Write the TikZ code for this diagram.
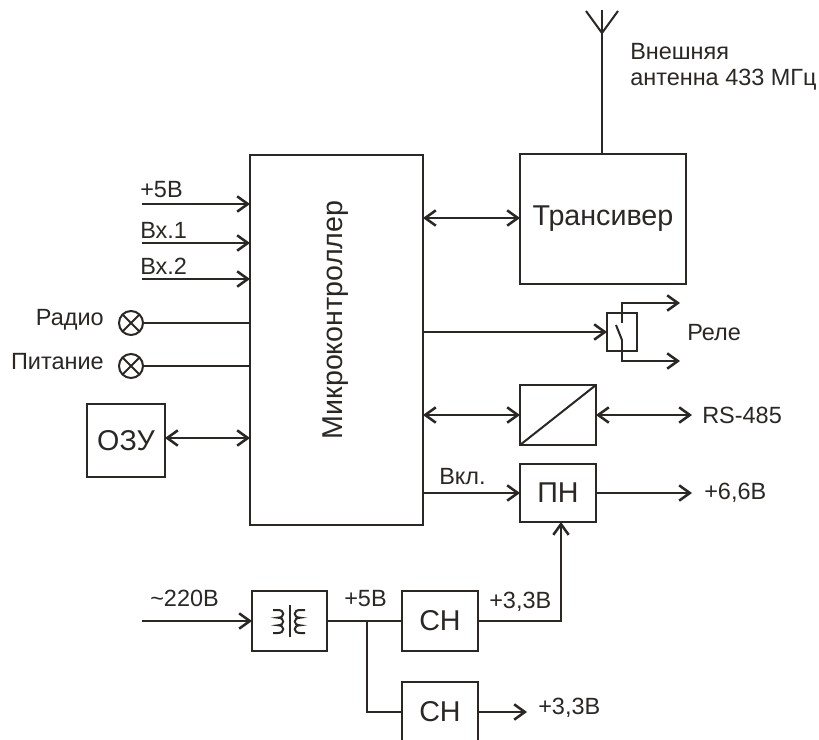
\documentclass[tikz,border=0pt]{standalone}
\usepackage{fontspec}
\setmainfont{Liberation Sans}
\usetikzlibrary{arrows.meta,positioning}
\definecolor{ink}{HTML}{2A2725}
\tikzset{
  x=0.75pt,y=-0.75pt,
  every node/.style={text=ink},
  line/.style={draw=ink,line width=1.5pt},
  arr/.style={line,-{Straight Barb[length=8pt,width=11.5pt,line width=1.9pt]}},
  darr/.style={line,{Straight Barb[length=8pt,width=11.5pt,line width=1.9pt]}-{Straight Barb[length=8pt,width=11.5pt,line width=1.9pt]}},
  blk/.style={line,rectangle,inner sep=0pt,outer sep=0pt},
  lamp/.style={line,circle,inner sep=0pt,outer sep=0pt,minimum size=18pt},
  lbl/.style={font=\fontsize{17.6pt}{20pt}\selectfont,anchor=west,inner sep=0pt},
  big/.style={font=\fontsize{21.5pt}{24pt}\selectfont,inner sep=0pt},
}
\begin{document}
\begin{tikzpicture}
\useasboundingbox[fill=white] (0,0) rectangle (819,740);
% blocks
\node[blk,minimum width=129.75pt,minimum height=277.5pt] (mcu) at (336.5,340) {};
\node[big,rotate=90] (mcut) at (336,320) {Микроконтроллер};
\node[blk,big,minimum width=124.5pt,minimum height=97.5pt] (trx) at (603,219) {Трансивер};
\node[blk,minimum width=22.5pt,minimum height=28.5pt] (rel) at (622,332) {};
\node[blk,minimum width=57pt,minimum height=45pt] (conv) at (558,415) {};
\node[blk,big,minimum width=57pt,minimum height=43.5pt] (pn) at (558,493) {ПН};
\node[blk,big,minimum width=58.5pt,minimum height=54.75pt] (ozu) at (126,440.5) {ОЗУ};
\node[blk,minimum width=56.25pt,minimum height=45pt] (tr) at (289.5,621) {};
\node[blk,big,minimum width=57pt,minimum height=45pt] (sn1) at (440,621) {СН};
\node[blk,big,minimum width=57pt,minimum height=45pt] (sn2) at (440,712) {СН};
\node[lamp] (l1) at (131,323) {};
\node[lamp] (l2) at (131,366) {};
\foreach \n in {l1,l2}{\draw[line] (\n.45)--(\n.225) (\n.135)--(\n.315);}
% free ends
\coordinate (a5) at (142,204);
\coordinate (a1) at (142,243);
\coordinate (a2) at (142,279);
\coordinate (ac) at (142,621);
\coordinate (ant) at (602,33);
\coordinate (antL) at (586,11);
\coordinate (antR) at (618,11);
\coordinate (antT) at (602,10);
\coordinate (rs) at (692,415);
\coordinate (v66) at (692,493);
\coordinate (v33) at (527,712);
\coordinate (relT) at (622,323);
\coordinate (relB) at (622,340);
\coordinate (relU) at (680,303);
\coordinate (relD) at (680,361);
\coordinate (blade) at (616,325);
\coordinate (branch) at (367,621);
\coordinate (pnin) at (561,522);
% connectors
\draw[arr] (a5) -- (a5 -| mcu.west);
\draw[arr] (a1) -- (a1 -| mcu.west);
\draw[arr] (a2) -- (a2 -| mcu.west);
\draw[line] (l1.east) -- (l1 -| mcu.west);
\draw[line] (l2.east) -- (l2 -| mcu.west);
\draw[darr] (ozu.east |- 0,438) -- (mcu.west |- 0,438);
\draw[darr] (mcu.east |- 0,218) -- (trx.west |- 0,218);
\draw[arr] (mcu.east |- rel) -- (rel.west);
\draw[darr] (mcu.east |- conv) -- (conv.west);
\draw[arr] (mcu.east |- pn) -- (pn.west);
\draw[darr] (conv.east) -- (rs);
\draw[arr] (pn.east) -- (v66);
\draw[line] (antT) -- (ant |- trx.north);
\draw[line] (antL) -- (ant) -- (antR);
\draw[arr] (relT) |- (relU);
\draw[arr] (relB) |- (relD);
\draw[line] (blade) -- (relB);
\draw[line] (conv.south west) -- (conv.north east);
\draw[arr] (ac) -- (tr.west);
\draw[line] (tr.east) -- (sn1.west);
\draw[line] (branch) |- (sn2.west);
\draw[arr] (sn1.east) -| (pnin);
\draw[arr] (sn2.east) -- (v33);
% transformer symbol
\draw[line] (289.5,605) -- (289.5,637);
\draw[line] (273,610) -- (278,610) .. controls (285,610) and (285,617.7) .. (278,617.7)
  .. controls (285,617.7) and (285,625.3) .. (278,625.3)
  .. controls (285,625.3) and (285,633) .. (278,633) -- (273,633);
\draw[line] (305,610) -- (300,610) .. controls (293,610) and (293,617.7) .. (300,617.7)
  .. controls (293,617.7) and (293,625.3) .. (300,625.3)
  .. controls (293,625.3) and (293,633) .. (300,633) -- (305,633);
% labels
\node[lbl] (t1) at (140,190) {+5В};
\node[lbl] (t2) at (140,230) {Вх.1};
\node[lbl] (t3) at (140,266) {Вх.2};
\node[lbl,anchor=east] (t4) at (104,320) {Радио};
\node[lbl,anchor=east] (t5) at (104,362) {Питание};
\node[lbl] (t6) at (687,333) {Реле};
\node[lbl] (t7) at (702,415) {RS-485};
\node[lbl] (t8) at (704,493) {+6,6В};
\node[lbl] (t9) at (439,477) {Вкл.};
\node[lbl] (t10) at (150,598) {\textasciitilde220В};
\node[lbl] (t11) at (344,599) {+5В};
\node[lbl] (t12) at (489,602) {+3,3В};
\node[lbl] (t13) at (538,708) {+3,3В};
\node[lbl] (t14) at (630,52) {Внешняя};
\node[lbl] (t15) at (630,80) {антенна 433 МГц};
\end{tikzpicture}
\end{document}
